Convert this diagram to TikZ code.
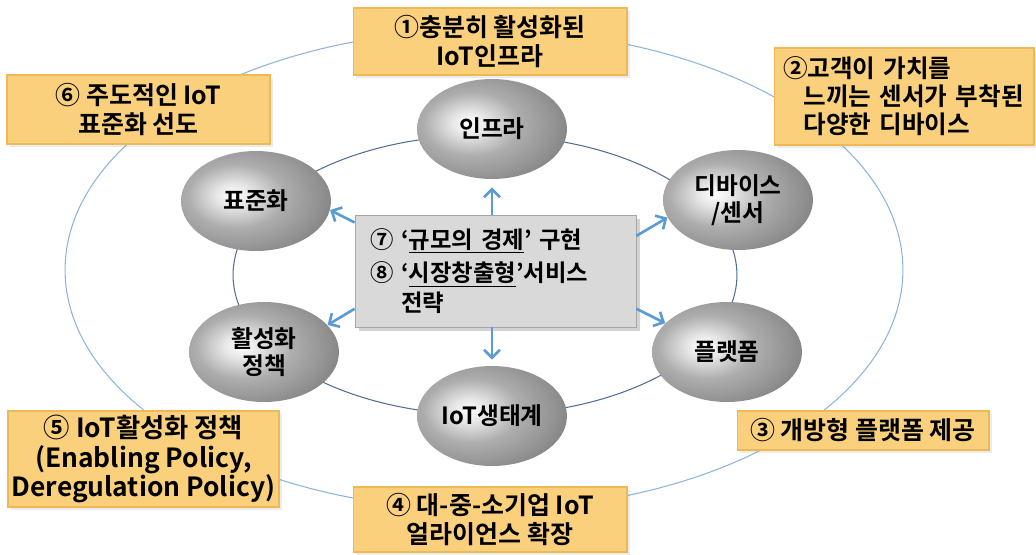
\documentclass[tikz,border=0pt]{standalone}
\usepackage{fontspec}
\setmainfont{Noto Sans CJK KR}[BoldFont={* Bold}]
\usetikzlibrary{arrows.meta,shapes.geometric,shadows}
\definecolor{orfill}{RGB}{250,208,125}
\definecolor{ordraw}{RGB}{238,185,85}
\definecolor{grfill}{RGB}{217,217,217}
\definecolor{arrblue}{RGB}{91,155,213}
\definecolor{outerline}{RGB}{140,180,220}
\definecolor{innerline}{RGB}{80,110,150}
\pgfdeclareradialshading{silverball}{\pgfpoint{-8bp}{3bp}}{%
 color(0bp)=(white); color(6bp)=(white!90!black); color(16bp)=(white!68!black);
 color(28bp)=(white!56!black); color(38bp)=(white!44!black); color(46bp)=(white!30!black);
 color(53bp)=(white!18!black); color(100bp)=(white!18!black)}
\begin{document}
\begin{tikzpicture}[x=0.02cm,y=-0.02cm,
  ball/.style={ellipse, minimum width=3cm, minimum height=2cm, inner sep=0pt,
    shading=silverball, align=center, font=\bfseries\fontsize{13.5}{15.5}\selectfont},
  obox/.style={rectangle, fill=orfill, draw=ordraw, line width=0.6pt, inner sep=0pt,
    align=center, font=\bfseries\fontsize{14.2}{16}\selectfont,
    drop shadow={opacity=0.15, shadow xshift=1.5pt, shadow yshift=-1.5pt}},
  cbox/.style={rectangle, fill=grfill, draw=black!35, line width=0.5pt,
    inner xsep=0.3cm, inner ysep=0pt, text width=5.02cm, minimum height=2.24cm,
    align=left, font=\bfseries\fontsize{13.3}{17}\selectfont,
    drop shadow={opacity=0.35, shadow xshift=2.5pt, shadow yshift=-2.5pt}},
  arr/.style={draw=arrblue, line width=1.5pt, -{Straight Barb[length=4.5pt,width=9pt]}}]
\useasboundingbox (0,0) rectangle (1036,555);
% guide ellipses
\draw[outerline, line width=0.6pt] (484,270) ellipse [x radius=8.38cm, y radius=4.8cm];
\draw[innerline, line width=0.6pt] (485,275) ellipse [x radius=5.04cm, y radius=2.8cm];
% ellipse nodes
\node[ball] (infra) at (492,129) {인프라};
\node[ball] (std) at (256,201) {표준화};
\node[ball] (dev) at (738,200) {디바이스\\/센서};
\node[ball] (act) at (264,352) {활성화\\정책};
\node[ball] (plat) at (727,352) {플랫폼};
\node[ball] (eco) at (492,416) {IoT생태계};
% center box
\node[cbox] (cb) at (495.5,271) {⑦ ‘\underline{규모의 경제}’ 구현\\[2pt]
⑧ ‘\underline{시장창출형}’서비스\\\phantom{⑧\ }전략};
% arrows
\draw[arr, shorten >=0.16cm] (cb.north -| infra.south) -- (infra.south);
\draw[arr, shorten >=0.12cm] (cb.south -| eco.north) -- (eco.north);
\draw[arr] (cb.161) -- (std.-7);
\draw[arr] (cb.14) -- (dev.194);
\draw[arr] (cb.195) -- (act.23);
\draw[arr] (cb.-15) -- (plat.155);
% orange boxes
\node[obox, minimum width=5.48cm, minimum height=1.34cm] (b1) at (490,41.5) {①충분히 활성화된\\IoT인프라};
\node[obox, minimum height=1.94cm, inner xsep=0.1cm, text width=5.0cm, align=left,
  font=\bfseries\fontsize{14}{16}\selectfont] (b2) at (904,96.5)
  {\hspace*{0.08cm}②고객이 가치를\\\hspace*{1.0em}느끼는 센서가 부착된\\\hspace*{1.0em}다양한 디바이스};
\node[obox, minimum width=5.04cm, minimum height=0.78cm] (b3) at (863,430.5) {③ 개방형 플랫폼 제공};
\node[obox, minimum width=5.48cm, minimum height=1.3cm] (b4) at (490,519.5) {④ 대-중-소기업 IoT\\얼라이언스 확장};
\node[obox, minimum width=5.42cm, minimum height=1.92cm, font=\bfseries\fontsize{15}{17}\selectfont] (b5) at (143.5,459) {⑤ IoT활성화 정책\\(Enabling Policy,\\Deregulation Policy)};
\node[obox, minimum width=5.26cm, minimum height=1.38cm] (b6) at (138.5,109.5) {⑥ 주도적인 IoT\\표준화 선도};
\end{tikzpicture}
\end{document}
